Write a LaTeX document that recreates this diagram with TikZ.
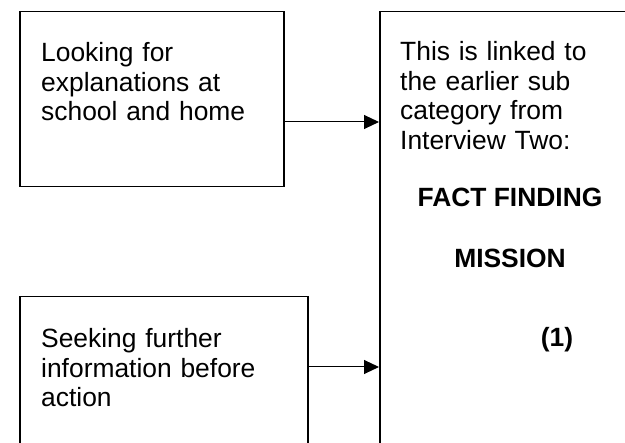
\documentclass[tikz,border=0pt]{standalone}
\usepackage{fontspec}
\setmainfont{Liberation Sans}
\usetikzlibrary{arrows.meta}
\begin{document}
\begin{tikzpicture}[x=1pt,y=-1pt,
  box/.style={draw=black,line width=1.5pt,rectangle,anchor=north west,inner sep=0pt},
  body/.style={anchor=base west,inner sep=0pt,text width=230pt,align=left,
    font=\fontsize{26.4}{29.5}\selectfont},
  heading/.style={anchor=base,inner sep=0pt,font=\fontsize{26.4}{29.5}\selectfont\bfseries},
  link/.style={line width=1pt,-{Triangle[length=15pt,width=14pt]}}]
  \path[use as bounding box] (0,0) rectangle (625,443);
  \clip (0,0) rectangle (625,443);
  \fill[white] (0,0) rectangle (625,443);
  % boxes
  \node[box,minimum width=264pt,minimum height=175pt] (b1) at (19,11) {};
  \node[box,minimum width=288pt,minimum height=180pt] (b3) at (19,296) {};
  \node[box,minimum width=280pt,minimum height=470pt] (b2) at (379,11) {};
  % texts
  \node[body] (t1) at (41,62) {Looking for\\explanations at\\school and home};
  \node[body] (t3) at (41,348) {Seeking further\\information before\\action};
  \node[body] (t2) at (400,61) {This is linked to\\the earlier sub\\category from\\Interview Two:};
  \node[heading] (h1) at (510,207) {FACT FINDING};
  \node[heading] (h2) at (510,268) {MISSION};
  \node[heading] (h3) at (557,347) {(1)};
  % connectors
  \draw[link] (b1.east |- 0,122) -- (b2.west |- 0,122);
  \draw[link] (b3.east |- 0,367) -- (b2.west |- 0,367);
\end{tikzpicture}
\end{document}
